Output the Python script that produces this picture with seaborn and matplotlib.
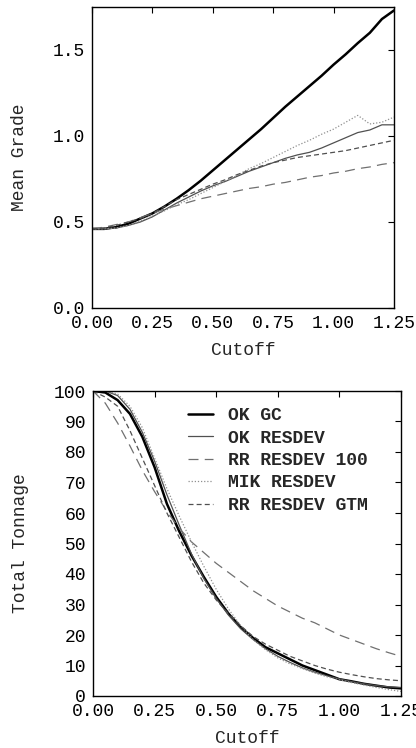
import numpy as np
import pandas as pd
import seaborn as sns
import matplotlib
matplotlib.use("Agg")
import matplotlib.pyplot as plt

cutoff = [0.00, 0.05, 0.10, 0.15, 0.20, 0.25, 0.30, 0.35, 0.40, 0.45, 0.50, 0.55, 0.60,
          0.65, 0.70, 0.75, 0.80, 0.85, 0.90, 0.95, 1.00, 1.05, 1.10, 1.15, 1.20, 1.25]

# mean grade curves
grade_ok_gc = [0.46, 0.46, 0.47, 0.49, 0.52, 0.55, 0.59, 0.635, 0.685, 0.74, 0.80, 0.86, 0.92,
               0.98, 1.04, 1.105, 1.17, 1.23, 1.29, 1.35, 1.415, 1.475, 1.54, 1.60, 1.68, 1.73]
grade_ok_resdev = [0.46, 0.46, 0.465, 0.48, 0.50, 0.53, 0.57, 0.61, 0.645, 0.68, 0.71, 0.735, 0.765,
                   0.795, 0.82, 0.845, 0.87, 0.89, 0.905, 0.93, 0.96, 0.99, 1.02, 1.035, 1.065, 1.065]
grade_rr_100 = [0.46, 0.47, 0.485, 0.50, 0.525, 0.55, 0.575, 0.595, 0.615, 0.635, 0.65, 0.665, 0.68,
                0.695, 0.705, 0.72, 0.73, 0.745, 0.76, 0.77, 0.785, 0.795, 0.81, 0.82, 0.835, 0.845]
grade_mik = [0.46, 0.46, 0.465, 0.48, 0.505, 0.535, 0.565, 0.60, 0.63, 0.665, 0.70, 0.735, 0.77,
             0.81, 0.84, 0.875, 0.91, 0.945, 0.975, 1.01, 1.04, 1.08, 1.12, 1.07, 1.08, 1.11]
grade_rr_gtm = [0.46, 0.465, 0.48, 0.50, 0.52, 0.55, 0.59, 0.63, 0.66, 0.69, 0.72, 0.745, 0.775,
                0.80, 0.825, 0.845, 0.86, 0.875, 0.885, 0.895, 0.905, 0.915, 0.93, 0.945, 0.96, 0.975]

# total tonnage curves
ton_ok_gc = [100, 99.5, 97, 92.5, 85, 75, 63, 54, 46, 39, 32.5, 27, 22.5,
             19, 16, 14, 12, 10, 8.5, 7, 5.5, 4.8, 4, 3.4, 2.8, 2.5]
ton_ok_resdev = [100, 100, 98.5, 94, 86.5, 77, 66, 56, 46.5, 38.5, 32, 26.5, 22,
                 18.5, 15.5, 13, 11, 9.2, 7.8, 6.6, 5.6, 4.7, 4, 3.4, 3, 2.8]
ton_rr_100 = [100, 96, 89.5, 82, 74, 67, 60.5, 55, 50.5, 47, 43.5, 40.5, 37.5,
              34.5, 32, 29.5, 27.5, 25.5, 24, 22, 20, 18.5, 17, 15.5, 14.2, 13]
ton_mik = [100, 100, 99, 95, 88, 78, 68, 59, 50.5, 42.5, 35, 28.5, 23,
           18.5, 15.2, 12.5, 10.5, 9, 7.5, 6.3, 5.3, 4.4, 3.6, 2.8, 2.1, 1.5]
ton_rr_gtm = [100, 98, 95, 87, 78, 69, 60, 52, 44, 37, 31.5, 27, 23,
              19.5, 17, 15, 13, 11.5, 10, 8.8, 7.8, 7, 6.3, 5.7, 5.3, 5]

labels = ["OK GC", "OK RESDEV", "RR RESDEV 100", "MIK RESDEV", "RR RESDEV GTM"]
colors = ["#000000", "#505050", "#707070", "#909090", "#505050"]
widths = [1.8, 0.9, 0.9, 0.9, 0.9]
dashes = [(None, None), (None, None), (8, 5), (1, 1.5), (4, 2.5)]

sns.set_style("white")
plt.rcParams['font.family'] = ['Liberation Mono', 'DejaVu Sans Mono']
plt.rcParams['font.size'] = 13

fig = plt.figure(figsize=(4.16, 7.48), dpi=100)
ax1 = fig.add_axes([92 / 416, 1 - 308 / 748, 302 / 416, 301 / 748])
ax2 = fig.add_axes([93 / 416, 1 - 696 / 748, 308 / 416, 305 / 748])


def draw(ax, series):
    for y, lab, c, w, d in zip(series, labels, colors, widths, dashes):
        sns.lineplot(x=cutoff, y=y, ax=ax, color=c, linewidth=w, label=lab)
        if d[0] is not None:
            ax.lines[-1].set_dashes(d)
    ax.set_xlim(0, 1.25)
    ax.set_xticks([0, 0.25, 0.5, 0.75, 1.0, 1.25])
    ax.set_xticklabels(["0.00", "0.25", "0.50", "0.75", "1.00", "1.25"])
    ax.set_xlabel("Cutoff", labelpad=7)
    ax.tick_params(direction="in", length=4, width=0.8, top=True, right=True,
                   pad=5, colors="black")
    for s in ax.spines.values():
        s.set_color("black")
        s.set_linewidth(1.0)


draw(ax1, [grade_ok_gc, grade_ok_resdev, grade_rr_100, grade_mik, grade_rr_gtm])
ax1.set_ylim(0, 1.75)
ax1.set_yticks([0, 0.5, 1.0, 1.5])
ax1.set_yticklabels(["0.0", "0.5", "1.0", "1.5"])
ax1.set_ylabel("Mean Grade", labelpad=18)
ax1.get_legend().remove()

draw(ax2, [ton_ok_gc, ton_ok_resdev, ton_rr_100, ton_mik, ton_rr_gtm])
ax2.set_ylim(0, 100)
ax2.set_yticks(range(0, 101, 10))
ax2.set_ylabel("Total Tonnage", labelpad=18)
ax2.legend(loc="upper left", bbox_to_anchor=(0.308, 0.947), frameon=False,
           borderpad=0, borderaxespad=0, handlelength=1.4, handletextpad=0.8,
           labelspacing=0.3, prop={"size": 13, "weight": "bold"})

fig.savefig("out.png", dpi=100)
